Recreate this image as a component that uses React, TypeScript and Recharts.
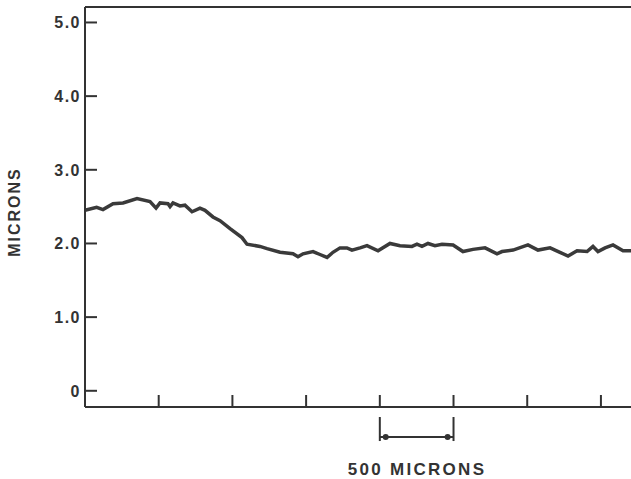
import React from "react";
import { LineChart, Line, XAxis, YAxis, ReferenceLine, ReferenceDot } from "recharts";

// distance along the scan (microns) and measured height (microns)
const positions = [
  0, 79, 122, 190, 258, 353, 441, 482, 509, 563, 577, 597, 644, 678, 726, 780, 814, 868, 916, 984,
  1065, 1099, 1187, 1235, 1323, 1411, 1445, 1479, 1547, 1594, 1642, 1682, 1730, 1777, 1811, 1866,
  1913, 1988, 2069, 2137, 2218, 2252, 2286, 2327, 2374, 2422, 2497, 2564, 2632, 2714, 2795, 2829,
  2904, 3005, 3073, 3155, 3222, 3277, 3338, 3406, 3446, 3480, 3528, 3582, 3650, 3704,
];
const heights = [
  2.45, 2.49, 2.46, 2.54, 2.55, 2.61, 2.57, 2.48, 2.55, 2.54, 2.5, 2.55, 2.51, 2.52, 2.43, 2.48, 2.45,
  2.36, 2.31, 2.2, 2.08, 1.99, 1.96, 1.93, 1.88, 1.86, 1.82, 1.86, 1.89, 1.85, 1.81, 1.88, 1.94, 1.94,
  1.91, 1.94, 1.97, 1.9, 2.0, 1.97, 1.96, 1.99, 1.96, 2.0, 1.97, 1.99, 1.98, 1.89, 1.92, 1.94, 1.86,
  1.89, 1.91, 1.98, 1.91, 1.94, 1.88, 1.83, 1.9, 1.89, 1.96, 1.89, 1.94, 1.98, 1.9, 1.9,
];
const yTicks = [0, 1, 2, 3, 4, 5];
const yTickLabels = ["0", "1.0", "2.0", "3.0", "4.0", "5.0"];
const xTicks = [500, 1000, 1500, 2000, 2500, 3000, 3500];
const scaleBar = [2000, 2500];

const data = positions.map((x, i) => ({ x, h: heights[i] }));

const INK = "#333";
const FONT = "'Liberation Sans', Arial, sans-serif";
const AXIS_X = 85;
const AXIS_Y = 407;

const YTick = (props: any) => {
  const { y, payload } = props;
  const i = yTicks.indexOf(payload.value);
  return (
    <g>
      <line x1={AXIS_X} x2={AXIS_X + 12} y1={y} y2={y} stroke={INK} strokeWidth={2} />
      <text
        x={AXIS_X - 4}
        y={y}
        dy={6}
        textAnchor="end"
        fill={INK}
        fontSize={16}
        fontWeight="bold"
        letterSpacing={1.5}
        fontFamily={FONT}
      >
        {yTickLabels[i]}
      </text>
    </g>
  );
};

const XTick = (props: any) => {
  const { x } = props;
  return <line x1={x} x2={x} y1={AXIS_Y} y2={AXIS_Y - 12} stroke={INK} strokeWidth={2} />;
};

export default function App() {
  return (
    <div style={{ position: "absolute", left: 0, top: 0, width: 631, height: 479, background: "#fff" }}>
      <LineChart width={631} height={479} data={data} margin={{ top: 7, right: 0, bottom: 0, left: 0 }}>
        <XAxis
          type="number"
          dataKey="x"
          domain={[0, 3704]}
          ticks={xTicks}
          height={72}
          axisLine={{ stroke: INK, strokeWidth: 2 }}
          tickLine={false}
          tick={<XTick />}
        />
        <YAxis
          type="number"
          domain={[-0.22, 5.21]}
          ticks={yTicks}
          width={85}
          axisLine={{ stroke: INK, strokeWidth: 2 }}
          tickLine={false}
          tick={<YTick />}
        />
        <ReferenceLine y={5.21} stroke={INK} strokeWidth={2} ifOverflow="visible" />
        <Line
          type="linear"
          dataKey="h"
          stroke="#3a3a3a"
          strokeWidth={3.5}
          dot={false}
          isAnimationActive={false}
        />
        {scaleBar.map((v) => (
          <ReferenceLine
            key={v}
            segment={[{ x: v, y: -0.356 }, { x: v, y: -0.682 }]}
            stroke={INK}
            strokeWidth={2}
            ifOverflow="visible"
          />
        ))}
        <ReferenceLine
          segment={[{ x: scaleBar[0], y: -0.628 }, { x: scaleBar[1], y: -0.628 }]}
          stroke={INK}
          strokeWidth={2}
          ifOverflow="visible"
        />
        <ReferenceDot x={2040} y={-0.628} r={3} fill={INK} stroke="none" ifOverflow="visible" />
        <ReferenceDot x={2460} y={-0.628} r={3} fill={INK} stroke="none" ifOverflow="visible" />
      </LineChart>
      <div
        style={{
          position: "absolute",
          left: 417,
          top: 470,
          transform: "translate(-50%, -50%)",
          fontFamily: FONT,
          fontSize: 17,
          fontWeight: "bold",
          letterSpacing: 2.3,
          color: INK,
          whiteSpace: "nowrap",
        }}
      >
        500 MICRONS
      </div>
      <div
        style={{
          position: "absolute",
          left: 15,
          top: 212,
          transform: "translate(-50%, -50%) rotate(-90deg)",
          fontFamily: FONT,
          fontSize: 16,
          fontWeight: "bold",
          letterSpacing: 2,
          color: INK,
          whiteSpace: "nowrap",
        }}
      >
        MICRONS
      </div>
    </div>
  );
}
